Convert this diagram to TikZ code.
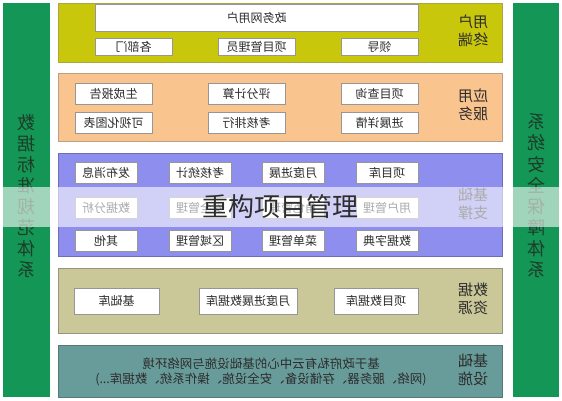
\documentclass[tikz,border=0pt]{standalone}
\usepackage{fontspec}
\usepackage{graphicx}
\newfontfamily\cjk{Noto Sans CJK SC}
\definecolor{colgreen}{RGB}{20,150,86}
\definecolor{coltext}{RGB}{28,62,40}
\definecolor{yel}{RGB}{201,199,12}
\definecolor{yelb}{RGB}{168,166,70}
\definecolor{peach}{RGB}{250,196,142}
\definecolor{peachb}{RGB}{185,160,135}
\definecolor{lav}{RGB}{142,142,238}
\definecolor{lavb}{RGB}{110,110,180}
\definecolor{khaki}{RGB}{202,200,152}
\definecolor{khakib}{RGB}{150,150,128}
\definecolor{teal}{RGB}{104,156,154}
\definecolor{tealb}{RGB}{88,120,120}
\definecolor{boxb}{RGB}{150,150,150}
\definecolor{txt}{RGB}{45,45,45}
\newcommand\mirtxt[1]{\reflectbox{#1}}
\newcommand\mirstack[1]{\reflectbox{\begin{tabular}{@{}c@{}}#1\end{tabular}}}
\begin{document}
\begin{tikzpicture}[x=1pt,y=-1pt,
  box/.style={draw=boxb, line width=0.8pt, fill=white, inner sep=0pt,
    font=\cjk\fontsize{12}{14}\selectfont, text=txt},
  lbl/.style={inner sep=0pt, font=\cjk\fontsize{15}{18}\selectfont, text=txt},
  coltxt/.style={inner sep=0pt, font=\cjk\fontsize{18}{19.75}\selectfont, text=coltext},
  layer/.style={draw=#1b, fill=#1, line width=0.8pt}]
\useasboundingbox (0,0) rectangle (562,400);
\fill[white] (0,0) rectangle (562,400);
% side columns
\fill[colgreen] (3,3) rectangle (50,397);
\fill[colgreen] (513,3) rectangle (559,397);
\node[coltxt] (lcol) at (26.5,198) {\mirstack{数\\据\\标\\准\\规\\范\\体\\系}};
\node[coltxt] (rcol) at (536,198) {\mirstack{系\\统\\安\\全\\保\\障\\体\\系}};
% layer 1
\draw[layer=yel] (58,3) rectangle (502,62);
\node[box, minimum width=323pt, minimum height=27pt] (u0) at (256.5,17.5) {\mirtxt{政务网用户}};
\node[box, minimum width=77pt, minimum height=17pt] (u1) at (133.5,46.5) {\mirtxt{各部门}};
\node[box, minimum width=77pt, minimum height=17pt] (u2) at (256.5,46.5) {\mirtxt{项目管理员}};
\node[box, minimum width=77pt, minimum height=17pt] (u3) at (379.5,46.5) {\mirtxt{领导}};
\node[lbl] (l1) at (473,33) {\mirstack{用户\\终端}};
% layer 2
\draw[layer=peach] (58,73) rectangle (502,141);
\node[box, minimum width=77pt, minimum height=21pt] (a1) at (113.5,93.5) {\mirtxt{生成报告}};
\node[box, minimum width=77pt, minimum height=21pt] (a2) at (246.5,93.5) {\mirtxt{评分计算}};
\node[box, minimum width=77pt, minimum height=21pt] (a3) at (379.5,93.5) {\mirtxt{项目查询}};
\node[box, minimum width=77pt, minimum height=21pt] (a4) at (113.5,122.5) {\mirtxt{可视化图表}};
\node[box, minimum width=77pt, minimum height=21pt] (a5) at (246.5,122.5) {\mirtxt{考核排行}};
\node[box, minimum width=77pt, minimum height=21pt] (a6) at (379.5,122.5) {\mirtxt{进展详情}};
\node[lbl] (l2) at (473,107) {\mirstack{应用\\服务}};
% layer 3
\draw[layer=lav] (58,153) rectangle (502,256);
\node[box, minimum width=62pt, minimum height=21pt] (s1) at (106,172.5) {\mirtxt{发布消息}};
\node[box, minimum width=62pt, minimum height=21pt] (s2) at (200,172.5) {\mirtxt{考核统计}};
\node[box, minimum width=62pt, minimum height=21pt] (s3) at (293,172.5) {\mirtxt{月度进展}};
\node[box, minimum width=62pt, minimum height=21pt] (s4) at (387,172.5) {\mirtxt{项目库}};
\node[box, minimum width=62pt, minimum height=21pt] (s5) at (106,207.5) {\mirtxt{数据分析}};
\node[box, minimum width=62pt, minimum height=21pt] (s6) at (200,207.5) {\mirtxt{安全管理}};
\node[box, minimum width=62pt, minimum height=21pt] (s7) at (293,207.5) {\mirtxt{角色管理}};
\node[box, minimum width=62pt, minimum height=21pt] (s8) at (387,207.5) {\mirtxt{用户管理}};
\node[box, minimum width=62pt, minimum height=21pt] (s9) at (106,240.5) {\mirtxt{其他}};
\node[box, minimum width=62pt, minimum height=21pt] (s10) at (200,240.5) {\mirtxt{区域管理}};
\node[box, minimum width=62pt, minimum height=21pt] (s11) at (293,240.5) {\mirtxt{菜单管理}};
\node[box, minimum width=62pt, minimum height=21pt] (s12) at (387,240.5) {\mirtxt{数据字典}};
\node[lbl] (l3) at (473,206) {\mirstack{基础\\支撑}};
% layer 4
\draw[layer=khaki] (58,268) rectangle (502,333);
\node[box, minimum width=85pt, minimum height=26pt] (d1) at (116.5,301) {\mirtxt{基础库}};
\node[box, minimum width=98pt, minimum height=26pt] (d2) at (248,301) {\mirtxt{月度进展数据库}};
\node[box, minimum width=84pt, minimum height=26pt] (d3) at (376,301) {\mirtxt{项目数据库}};
\node[lbl] (l4) at (473,301) {\mirstack{数据\\资源}};
% layer 5
\draw[layer=teal] (58,345) rectangle (502,397);
\node[inner sep=0pt, font=\cjk\fontsize{12.5}{13.5}\selectfont, text=txt] (i1) at (261,373)
  {\mirstack{基于政府私有云中心的基础设施与网络环境\\(网络、服务器、存储设备、安全设施、操作系统、数据库...)}};
\node[lbl] (l5) at (473,372) {\mirstack{基础\\设施}};
% watermark band
\fill[white, opacity=0.6] (0,187) rectangle (562,227);
\node[inner sep=0pt, font=\cjk\fontsize{26}{28}\selectfont, text={rgb,255:red,45;green,45;blue,45}] (wm) at (280,207) {重构项目管理};
\end{tikzpicture}
\end{document}
